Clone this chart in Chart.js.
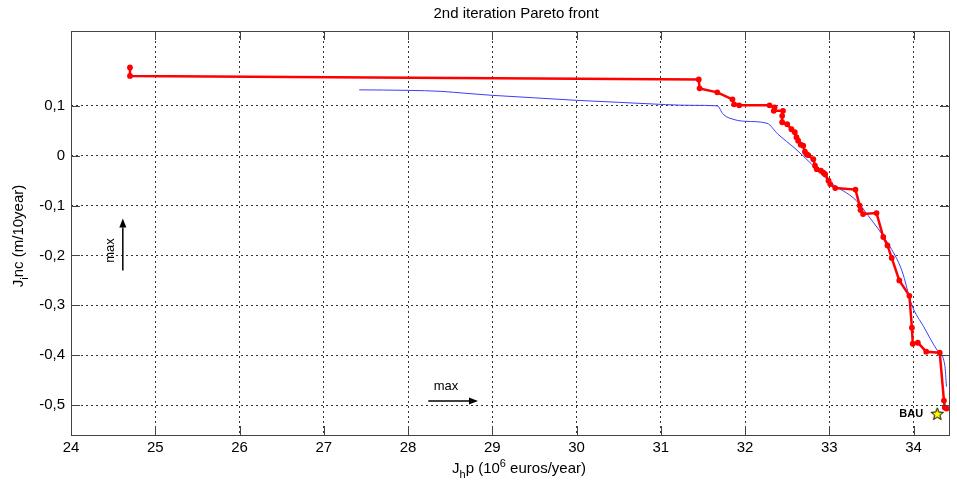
<!DOCTYPE html>
<html><head><meta charset="utf-8">
<script src="https://cdn.jsdelivr.net/npm/chart.js@4.4.0/dist/chart.umd.min.js"></script>
<style>html,body{margin:0;padding:0;background:#fff}#wrap{width:957px;height:486px;position:relative}</style>
</head><body><div id="wrap"><canvas id="c"></canvas></div>
<script>
// ---- data ----
const redX = [24.70,24.70,31.45,31.46,31.67,31.85,31.87,31.93,32.29,32.35,32.34,32.45,32.44,32.44,32.50,32.55,32.59,32.61,32.63,32.66,32.69,32.71,32.73,32.75,32.81,32.83,32.85,32.90,32.93,32.95,32.99,33.01,33.07,33.31,33.36,33.37,33.40,33.56,33.64,33.69,33.74,33.83,33.95,33.98,33.99,34.05,34.15,34.31,34.36,34.37,34.39];
const redY = [0.177,0.160,0.153,0.135,0.127,0.113,0.103,0.101,0.101,0.097,0.090,0.090,0.080,0.067,0.063,0.053,0.047,0.037,0.030,0.022,0.020,0.008,0.003,0.001,-0.007,-0.020,-0.027,-0.030,-0.034,-0.037,-0.050,-0.057,-0.065,-0.068,-0.100,-0.109,-0.117,-0.115,-0.163,-0.180,-0.205,-0.250,-0.281,-0.345,-0.377,-0.375,-0.393,-0.395,-0.491,-0.505,-0.507];
const blueX = [27.42,28.00,28.39,28.69,29.00,29.50,30.00,30.50,30.74,31.37,31.67,31.74,31.88,32.00,32.26,32.39,32.59,32.79,33.01,33.32,33.46,33.70,33.86,33.98,34.12,34.28,34.37,34.39];
const blueY = [0.132,0.131,0.129,0.125,0.121,0.116,0.111,0.107,0.105,0.101,0.100,0.083,0.072,0.069,0.065,0.043,0.015,-0.017,-0.053,-0.090,-0.120,-0.177,-0.230,-0.300,-0.343,-0.390,-0.420,-0.463];
const bauX = [34.28];
const bauY = [-0.517];
const xTicks = [24,25,26,27,28,29,30,31,32,33,34];
const yTicks = [-0.5,-0.4,-0.3,-0.2,-0.1,0,0.1];
const titleText = "2nd iteration Pareto front";

const toPts = (xs, ys) => xs.map((x, i) => ({x: x, y: ys[i]}));

// star point style image
function starImage(size){
  const c = document.createElement('canvas');
  c.width = size; c.height = size;
  const g = c.getContext('2d');
  const cx = size/2, cy = size/2 + 0.8, R = size/2 - 1, r = R*0.42;
  g.beginPath();
  for (let i = 0; i < 10; i++){
    const a = -Math.PI/2 + i*Math.PI/5;
    const rr = (i % 2 === 0) ? R : r;
    const px = cx + rr*Math.cos(a), py = cy + rr*Math.sin(a);
    if (i === 0) g.moveTo(px, py); else g.lineTo(px, py);
  }
  g.closePath();
  g.fillStyle = '#ffff00'; g.fill();
  g.lineWidth = 1; g.strokeStyle = '#000'; g.stroke();
  return c;
}
const star = starImage(15);

const FONT = '"Liberation Sans", Arial, sans-serif';

const decor = {
  id: 'decor',
  afterDraw(chart){
    const ctx = chart.ctx, a = chart.chartArea;
    const xs = chart.scales.x, ys = chart.scales.y;
    ctx.save();
    // box
    ctx.strokeStyle = '#444'; ctx.lineWidth = 1; ctx.setLineDash([]);
    ctx.strokeRect(Math.round(a.left)+0.5, Math.round(a.top)+0.5, Math.round(a.right-a.left), Math.round(a.bottom-a.top));
    // inside ticks
    const tl = 9;
    ctx.beginPath();
    xTicks.forEach(v => {
      const px = Math.round(xs.getPixelForValue(v)) + 0.5;
      ctx.moveTo(px, a.bottom); ctx.lineTo(px, a.bottom - tl);
      ctx.moveTo(px, a.top); ctx.lineTo(px, a.top + tl);
    });
    yTicks.forEach(v => {
      const py = Math.round(ys.getPixelForValue(v)) + 0.5;
      ctx.moveTo(a.left, py); ctx.lineTo(a.left + tl, py);
      ctx.moveTo(a.right, py); ctx.lineTo(a.right - tl, py);
    });
    ctx.stroke();

    ctx.fillStyle = '#000';
    // title
    ctx.font = '15px ' + FONT;
    ctx.textAlign = 'center'; ctx.textBaseline = 'middle';
    ctx.fillText(titleText, 516, 14);

    // x axis title with sub/superscript
    const parts = [
      {t:'J', f:'15px', dy:0},
      {t:'h', f:'11px', dy:5},
      {t:'p (10', f:'15px', dy:0},
      {t:'6', f:'11px', dy:-6},
      {t:' euros/year)', f:'15px', dy:0}
    ];
    ctx.textAlign = 'left'; ctx.textBaseline = 'alphabetic';
    let w = 0;
    parts.forEach(p => { ctx.font = p.f + ' ' + FONT; w += ctx.measureText(p.t).width; });
    let x0 = 519 - w/2;
    parts.forEach(p => { ctx.font = p.f + ' ' + FONT; ctx.fillText(p.t, x0, 473 + p.dy); x0 += ctx.measureText(p.t).width; });

    // y axis title rotated
    const yparts = [
      {t:'J', f:'15px', dy:0},
      {t:'i', f:'11px', dy:5},
      {t:'nc (m/10year)', f:'15px', dy:0}
    ];
    ctx.save();
    ctx.translate(23, 236);
    ctx.rotate(-Math.PI/2);
    w = 0;
    yparts.forEach(p => { ctx.font = p.f + ' ' + FONT; w += ctx.measureText(p.t).width; });
    x0 = -w/2;
    yparts.forEach(p => { ctx.font = p.f + ' ' + FONT; ctx.fillText(p.t, x0, 0 + p.dy); x0 += ctx.measureText(p.t).width; });
    ctx.restore();

    // arrows ("max")
    function arrow(x1, y1, x2, y2){
      const ang = Math.atan2(y2 - y1, x2 - x1), hl = 9, hw = 3.5;
      const bx = x2 - hl*Math.cos(ang), by = y2 - hl*Math.sin(ang);
      ctx.strokeStyle = '#000'; ctx.lineWidth = 1.5;
      ctx.beginPath(); ctx.moveTo(x1, y1); ctx.lineTo(bx, by); ctx.stroke();
      ctx.beginPath();
      ctx.moveTo(x2, y2);
      ctx.lineTo(bx + hw*Math.sin(ang), by - hw*Math.cos(ang));
      ctx.lineTo(bx - hw*Math.sin(ang), by + hw*Math.cos(ang));
      ctx.closePath(); ctx.fillStyle = '#000'; ctx.fill();
    }
    const hx1 = xs.getPixelForValue(28.24), hx2 = xs.getPixelForValue(28.83), hy = ys.getPixelForValue(-0.492);
    arrow(hx1, hy, hx2, hy);
    ctx.font = '13px ' + FONT; ctx.textAlign = 'center'; ctx.textBaseline = 'middle';
    ctx.fillText('max', xs.getPixelForValue(28.45), ys.getPixelForValue(-0.462));
    const vx = xs.getPixelForValue(24.615), vy1 = ys.getPixelForValue(-0.23), vy2 = ys.getPixelForValue(-0.126);
    arrow(vx, vy1, vx, vy2);
    ctx.save();
    ctx.translate(xs.getPixelForValue(24.47), ys.getPixelForValue(-0.19));
    ctx.rotate(-Math.PI/2);
    ctx.fillText('max', 0, 0);
    ctx.restore();

    // BAU label
    const bm = chart.getDatasetMeta(2).data[0];
    ctx.font = 'bold 11px ' + FONT; ctx.textAlign = 'right'; ctx.textBaseline = 'middle';
    ctx.fillText('BAU', bm.x - 14, bm.y);
    ctx.restore();
  }
};

new Chart(document.getElementById('c'), {
  type: 'scatter',
  data: {
    datasets: [
      {data: toPts(blueX, blueY), showLine: true, borderColor: '#3c3cff', borderWidth: 1, pointRadius: 0, cubicInterpolationMode: 'monotone', order: 2},
      {data: toPts(redX, redY), showLine: true, borderColor: '#ff0000', backgroundColor: '#ff0000', borderWidth: 2.5, pointRadius: 2.9, pointBorderWidth: 0, pointBackgroundColor: '#ff0000', order: 1},
      {data: toPts(bauX, bauY), pointStyle: star, pointRadius: 7, order: 0}
    ]
  },
  options: {
    responsive: true, maintainAspectRatio: false, animation: false,
    layout: {padding: {top: 31, right: 6, left: 0, bottom: 0}},
    plugins: {legend: {display: false}, tooltip: {enabled: false}, title: {display: false}},
    scales: {
      x: {
        type: 'linear', min: 24, max: 34.42,
        afterBuildTicks: s => { s.ticks = xTicks.map(v => ({value: v})); },
        afterFit: s => { s.height = 51; },
        grid: {color: '#333', lineWidth: 1, drawTicks: false},
        border: {display: false, dash: [2, 3]},
        ticks: {padding: 4, color: '#000', font: {family: FONT, size: 15}, maxRotation: 0, callback: v => String(v)}
      },
      y: {
        type: 'linear', min: -0.56, max: 0.25,
        afterBuildTicks: s => { s.ticks = yTicks.map(v => ({value: v})); },
        afterFit: s => { s.width = 71; },
        grid: {color: '#333', lineWidth: 1, drawTicks: false},
        border: {display: false, dash: [2, 3]},
        ticks: {padding: 6, color: '#000', font: {family: FONT, size: 15},
          callback: v => Math.abs(v) < 1e-9 ? '0' : v.toFixed(1).replace('.', ',')}
      }
    }
  },
  plugins: [decor]
});
</script>
</body></html>
